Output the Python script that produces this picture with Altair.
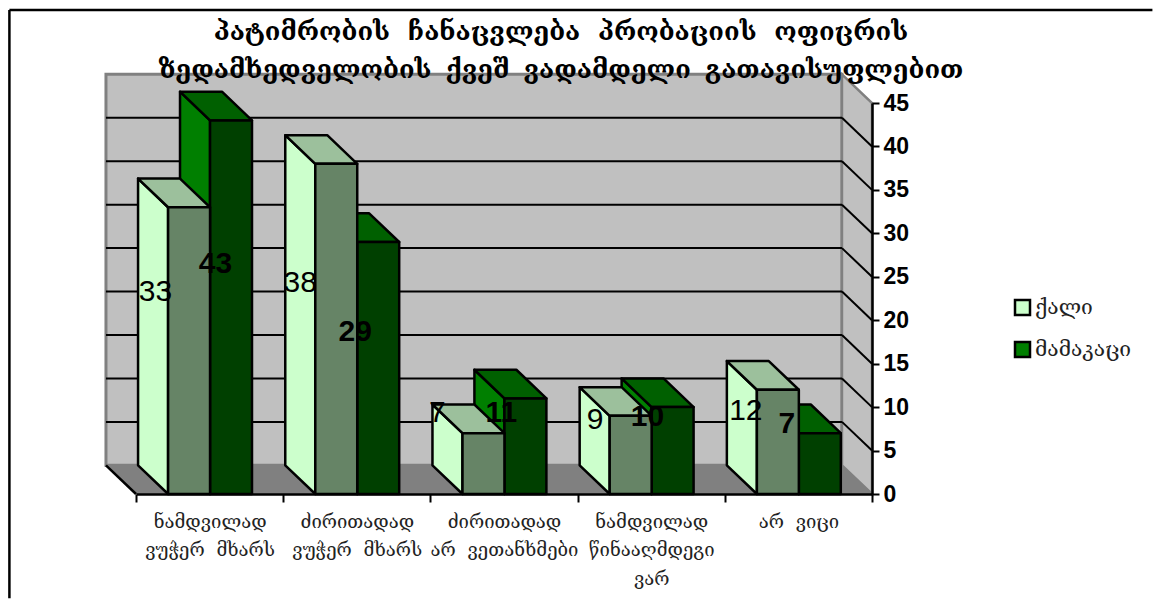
import altair as alt
import pandas as pd

# ---- chart values -------------------------------------------------------
SP = "\u00a0\u00a0"
SP2 = "\u00a0\u2009"
title_lines = [f"პატიმრობის{SP}ჩანაცვლება{SP}პრობაციის{SP}ოფიცრის",
               f"ზედამხედველობის{SP2}ქვეშ{SP2}ვადამდელი{SP2}გათავისუფლებით"]
category_lines = [["ნამდვილად", f"ვუჭერ{SP}მხარს"],
                  ["ძირითადად", f"ვუჭერ{SP}მხარს"],
                  ["ძირითადად", f"არ{SP}ვეთანხმები"],
                  ["ნამდვილად", "წინააღმდეგი", "ვარ"],
                  [f"არ{SP}ვიცი"]]
female_name = "ქალი"
male_name = "მამაკაცი"
female = [33, 38, 7, 9, 12]
male = [43, 29, 11, 10, 7]
y_ticks = [0, 5, 10, 15, 20, 25, 30, 35, 40, 45]

# ---- 3-D look, in scale units -------------------------------------------
FONT = "DejaVu Serif"
NUM = "Liberation Sans"
PLOT_W, PLOT_H = 736, 391
DX, DY = 0.204, 3.3            # depth of the box
BAR = 0.285
F_OFF, M_OFF = 0.218, 0.503
# label placement relative to the category start / half the value
F_LX = [0.132, 0.115, 0.048, 0.119, 0.143]
M_LX = [0.540, 0.489, 0.482, 0.475, 0.421]
F_LY = [6.8, 5.3, 5.8, 4.0, 3.5]
M_LY = [5.0, 4.2, 3.8, 3.9, 4.5]
XMAX = 5.0

labels_expr = "[" + ",".join(
    "[" + ",".join(f"'{s}'" for s in lines) + "]" for lines in category_lines) + ",''][datum.value]"

x_axis = alt.Axis(values=[0, 1, 2, 3, 4, 5], title=None, grid=False, labelExpr=labels_expr,
                  labelFont=FONT, labelFontSize=18.5, labelColor="#222222", labelAngle=0,
                  labelOffset=73.6, labelPadding=10, labelLineHeight=28.5, labelOverlap=False,
                  labelFlush=False, labelBound=False, labelBaseline="top",
                  domainColor="black", domainWidth=2.5, tickColor="black", tickWidth=2,
                  tickSize=8, zindex=1)
y_axis = alt.Axis(orient="right", values=y_ticks, title=None, grid=False,
                  labelFont=NUM, labelFontWeight="bold", labelFontSize=23, labelColor="black",
                  labelPadding=4, labelOverlap=False, labelFlush=False, labelBound=False,
                  domainColor="black", domainWidth=2.5, tickColor="black", tickWidth=2,
                  tickSize=7, zindex=1)


def X():
    return alt.X("x:Q", scale=alt.Scale(domain=[0, XMAX], nice=False, zero=False), axis=x_axis)


def Y():
    return alt.Y("y:Q", scale=alt.Scale(domain=[0, 45], nice=False), axis=y_axis)


def faces(values, off):
    left, top, front = [], [], []
    for i, v in enumerate(values):
        xf = i + off
        xb = xf - DX
        left += [dict(p=i, x=xb, y=v + DY, y2=DY), dict(p=i, x=xf, y=v, y2=0)]
        top += [dict(p=i, y=v, x=xf, x2=xf + BAR), dict(p=i, y=v + DY, x=xb, x2=xb + BAR)]
        front.append(dict(x=xf, x2=xf + BAR, y=v, y2=0))
    return pd.DataFrame(left), pd.DataFrame(top), pd.DataFrame(front)


color_scale = alt.Scale(domain=[female_name, male_name], range=["#CCFFCC", "#007F00"])
legend = alt.Legend(orient="none", legendX=876, legendY=194, title=None,
                    symbolType="square", symbolSize=225, symbolStrokeColor="black",
                    symbolStrokeWidth=2.5, labelFont=FONT, labelFontSize=21,
                    labelColor="#222222", rowPadding=17, labelOffset=2)
STROKE = dict(stroke="black", strokeWidth=2.5, strokeJoin="round")


def bar_layers(values, off, name, top_col, front_col):
    left, top, front = faces(values, off)
    left["series"] = name
    l = alt.Chart(left).mark_area(**STROKE, opacity=1).encode(
        x=X(), y=Y(), y2="y2:Q", detail="p:N",
        color=alt.Color("series:N", scale=color_scale, legend=legend))
    t = alt.Chart(top).mark_area(orient="horizontal", color=top_col, **STROKE).encode(
        y=Y(), x=X(), x2="x2:Q", detail="p:N")
    f = alt.Chart(front).mark_bar(color=front_col, **STROKE).encode(
        x=X(), x2="x2:Q", y=Y(), y2="y2:Q")
    return [l, t, f]


# walls and floor
back = alt.Chart(pd.DataFrame([dict(x=-DX, x2=XMAX - DX, y=DY, y2=45 + DY)])).mark_rect(
    color="#C0C0C0", stroke="#808080", strokeWidth=3).encode(x=X(), x2="x2:Q", y=Y(), y2="y2:Q")
side = alt.Chart(pd.DataFrame([dict(x=XMAX - DX, y=45 + DY, y2=DY), dict(x=XMAX, y=45, y2=0)])).mark_area(
    color="#C0C0C0", stroke="#808080", strokeWidth=2.5).encode(x=X(), y=Y(), y2="y2:Q")
floor = alt.Chart(pd.DataFrame([dict(y=0, x=0, x2=XMAX), dict(y=DY, x=-DX, x2=XMAX - DX)])).mark_area(
    orient="horizontal", color="#808080").encode(y=Y(), x=X(), x2="x2:Q")
floor_edge = alt.Chart(pd.DataFrame([dict(x=-DX, y=DY), dict(x=0, y=0)])).mark_line(
    color="black", strokeWidth=2.5).encode(x=X(), y=Y())

# gridlines
grid_vals = [v for v in y_ticks if 0 < v < 45]
grid_back = alt.Chart(pd.DataFrame([dict(x=-DX, x2=XMAX - DX, y=v + DY) for v in grid_vals])).mark_rule(
    color="black", strokeWidth=2).encode(x=X(), x2="x2:Q", y=Y())
grid_side_rows = []
for v in grid_vals:
    grid_side_rows += [dict(g=v, x=XMAX - DX, y=v + DY), dict(g=v, x=XMAX, y=v)]
grid_side = alt.Chart(pd.DataFrame(grid_side_rows)).mark_line(color="black", strokeWidth=2).encode(
    x=X(), y=Y(), detail="g:N")


# data labels
def label_frame(values, lx, ly):
    return pd.DataFrame([dict(x=i + a, y=v / 2 + b, t=str(v))
                         for i, (v, a, b) in enumerate(zip(values, lx, ly))])


f_labels = alt.Chart(label_frame(female, F_LX, F_LY)).mark_text(
    font=NUM, fontSize=30, color="black").encode(x=X(), y=Y(), text="t:N")
m_labels = alt.Chart(label_frame(male, M_LX, M_LY)).mark_text(
    font=NUM, fontSize=30, fontWeight="bold", color="black").encode(x=X(), y=Y(), text="t:N")

# outer frame: the top and left edges only
frame_top = alt.Chart(pd.DataFrame([dict(x=-0.86, x2=6.905, y=55.7)])).mark_rule(
    color="black", strokeWidth=2.5).encode(x=X(), x2="x2:Q", y=Y())
frame_left = alt.Chart(pd.DataFrame([dict(x=-0.86, y=55.7, y2=-12.0)])).mark_rule(
    color="black", strokeWidth=2.5).encode(x=X(), y=Y(), y2="y2:Q")

layers = [frame_top, frame_left, back, side, floor, floor_edge, grid_back, grid_side]
layers += bar_layers(male, M_OFF, male_name, "#006000", "#004000")
layers += bar_layers(female, F_OFF, female_name, "#9CC09C", "#668466")
layers += [f_labels, m_labels]

chart = alt.layer(*layers).properties(
    width=PLOT_W, height=PLOT_H, padding=0,
    title=alt.TitleParams(text=title_lines, font=FONT, fontWeight="bold", fontSize=25.5,
                          color="black", lineHeight=38, anchor="middle", dx=57, offset=-75),
).configure_view(stroke=None).resolve_scale(color="shared")

chart.save("out.html", embed_options={"renderer": "svg", "actions": False})
